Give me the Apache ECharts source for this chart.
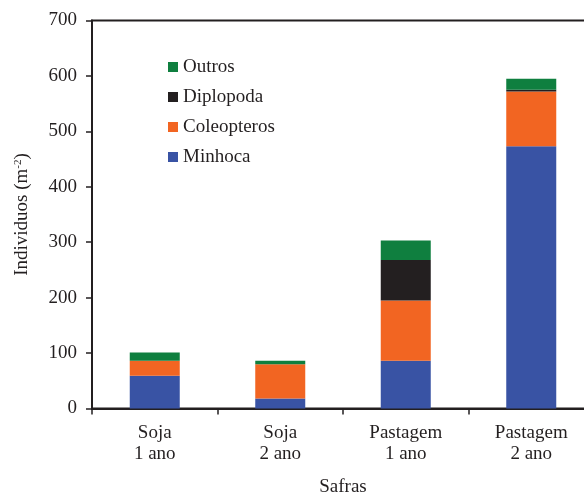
<!DOCTYPE html>
<html>
<head>
<meta charset="utf-8">
<script src="https://cdn.jsdelivr.net/npm/echarts@6/dist/echarts.min.js"></script>
<style>html,body{margin:0;padding:0;background:#fff}#c{width:584px;height:493px}</style>
</head>
<body>
<div id="c"></div>
<script>
const categories = ['Soja\n1 ano', 'Soja\n2 ano', 'Pastagem\n1 ano', 'Pastagem\n2 ano'];
const minhoca = [59, 18, 86, 473];
const coleopteros = [27, 62, 109, 99];
const diplopoda = [0, 0, 73, 3];
const outros = [15, 6, 35, 20];
const legendOrder = ['Outros', 'Diplopoda', 'Coleopteros', 'Minhoca'];

const FONT = 'Liberation Serif';
const FS = 19;
const chart = echarts.init(document.getElementById('c'));
function bar(name, data, color) {
  return { name, type: 'bar', stack: 'total', data, barWidth: 50,
    itemStyle: { color }, emphasis: { disabled: true } };
}
chart.setOption({
  animation: false,
  textStyle: { fontFamily: FONT },
  grid: { left: 92, right: -10, top: 20.5, bottom: 84.5, outerBoundsMode: 'none', containLabel: false,
    show: true, borderColor: '#231F20', borderWidth: 2, backgroundColor: 'transparent' },
  legend: {
    data: legendOrder, orient: 'vertical', left: 163, top: 52,
    icon: 'rect', itemWidth: 10, itemHeight: 10, itemGap: 10,
    textStyle: { fontFamily: FONT, fontSize: FS, color: '#231F20', lineHeight: 20 }
  },
  xAxis: {
    type: 'category', data: categories,
    name: 'Safras', nameLocation: 'middle', nameGap: 69,
    nameTextStyle: { fontFamily: FONT, fontSize: FS, color: '#231F20' },
    axisLine: { lineStyle: { color: '#231F20', width: 2 } },
    axisTick: { show: true, length: 6, lineStyle: { color: '#231F20', width: 1.5 } },
    axisLabel: { fontFamily: FONT, fontSize: FS, color: '#231F20', lineHeight: 21, margin: 14 }
  },
  yAxis: {
    type: 'value', min: 0, max: 700, interval: 100,
    name: '{n|Individuos (m}{s|-2}{n|)}', nameLocation: 'middle', nameGap: 60,
    nameTextStyle: { rich: { n: { fontFamily: FONT, fontSize: FS, color: '#231F20' }, s: { fontFamily: FONT, fontSize: 11, color: '#231F20', verticalAlign: 'top', padding: [0,0,8,0] } } },
    splitLine: { show: false },
    axisLine: { show: true, lineStyle: { color: '#231F20', width: 2 } },
    axisTick: { show: true, length: 6, lineStyle: { color: '#231F20', width: 1.5 } },
    axisLabel: { fontFamily: FONT, fontSize: FS, color: '#231F20', margin: 15 }
  },
  series: [
    bar('Minhoca', minhoca, '#3953A4'),
    bar('Coleopteros', coleopteros, '#F26522'),
    bar('Diplopoda', diplopoda, '#231F20'),
    bar('Outros', outros, '#0F7F3F')
  ]
});
</script>
</body>
</html>
